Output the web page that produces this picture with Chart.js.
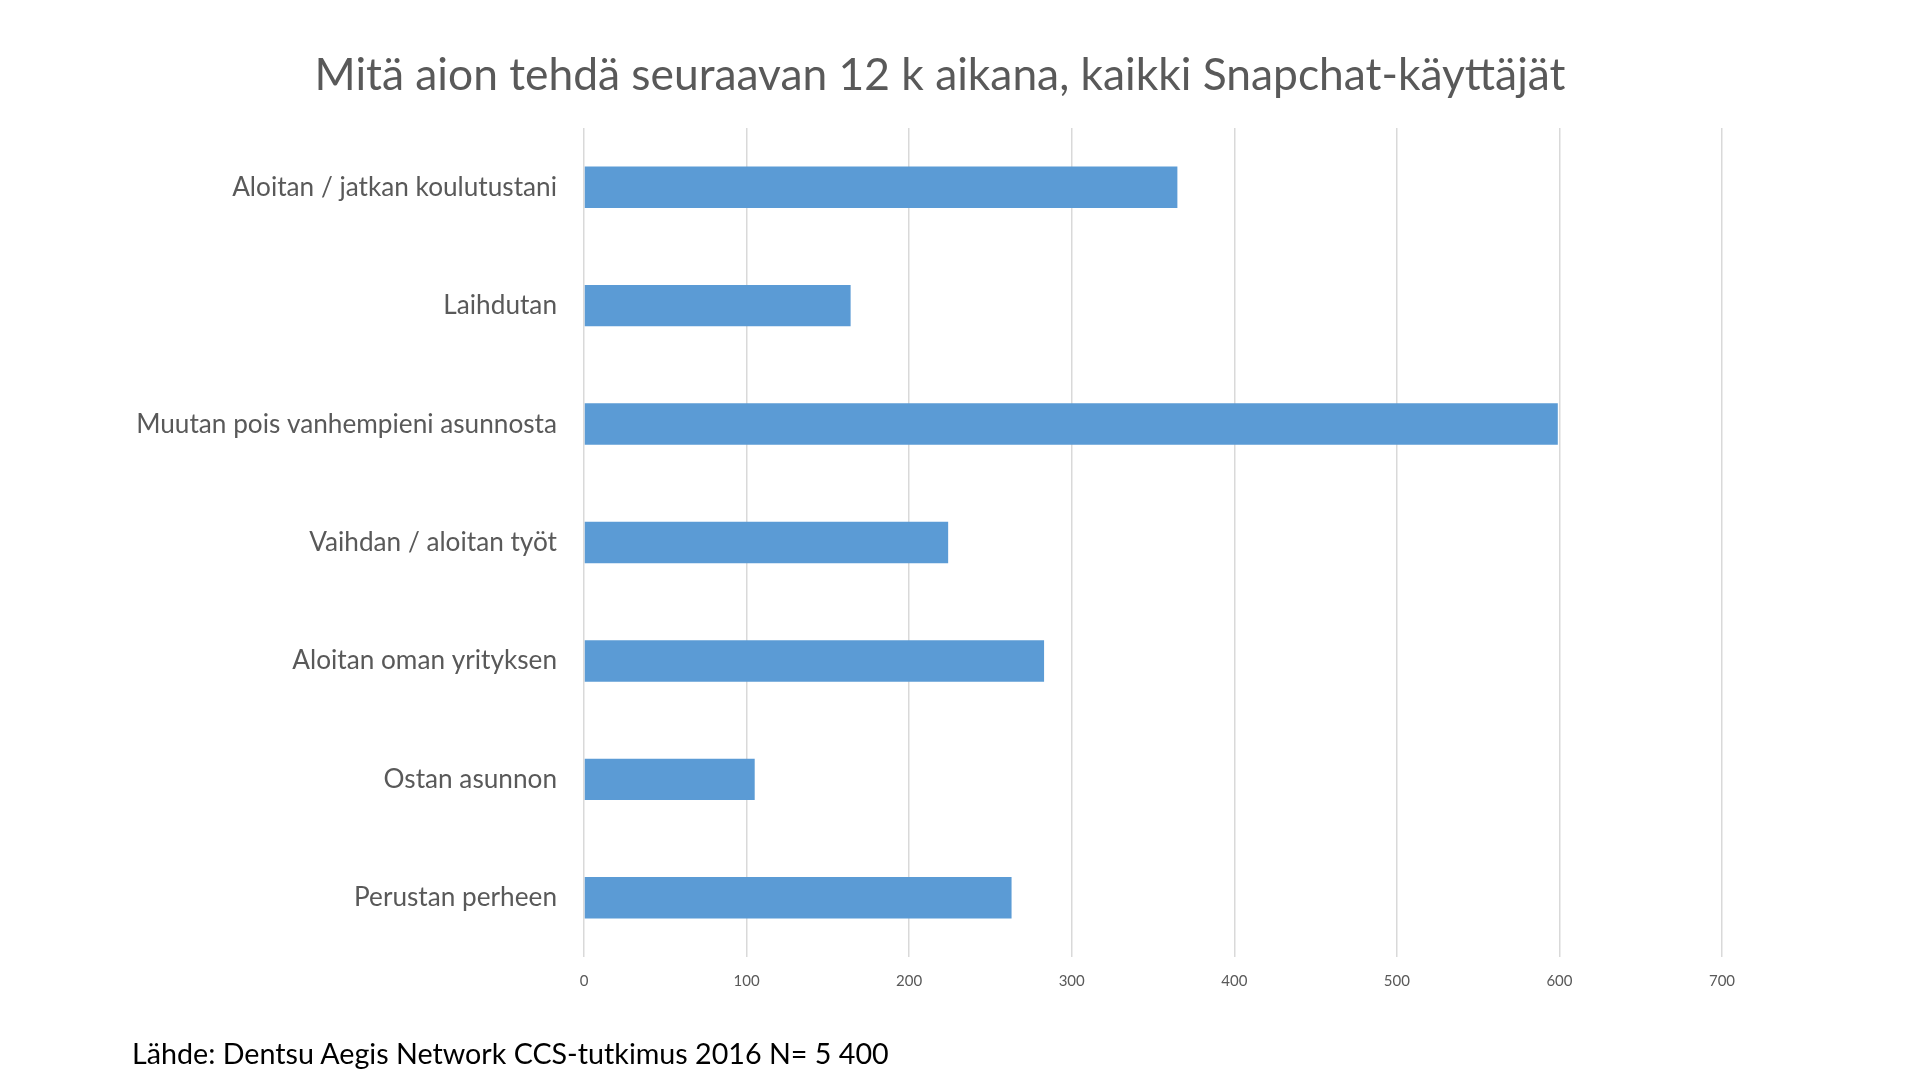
<!DOCTYPE html>
<html><head><meta charset="utf-8">
<script src="https://cdn.jsdelivr.net/npm/chart.js@4.4.1/dist/chart.umd.min.js"></script>
<style>
html,body{margin:0;padding:0;background:#fff;}
#wrap{position:relative;width:1920px;height:1080px;overflow:hidden;}
#c{position:absolute;left:0;top:0;}
#footer{position:absolute;left:132px;font-family:Lato,sans-serif;color:#000;white-space:nowrap;line-height:1.2;}
</style></head><body>
<div id="wrap"><canvas id="c" width="1920" height="1080"></canvas><div id="footer"></div></div>
<script>
const titleText = "Mitä aion tehdä seuraavan 12 k aikana, kaikki Snapchat-käyttäjät";
const footerText = "Lähde: Dentsu Aegis Network CCS-tutkimus 2016 N= 5 400";
const categories = [
  "Aloitan / jatkan koulutustani",
  "Laihdutan",
  "Muutan pois vanhempieni asunnosta",
  "Vaihdan / aloitan työt",
  "Aloitan oman yrityksen",
  "Ostan asunnon",
  "Perustan perheen"
];
const values = [365, 164, 599, 224, 283, 105, 263];
const xMin = 0, xMax = 700, xStep = 100;

const FAMILY = "Lato";
function fit(text, target) {
  const ctx = document.createElement('canvas').getContext('2d');
  ctx.font = "100px " + FAMILY;
  return 100 * target / ctx.measureText(text).width;
}

function draw() {
  const titleSize = fit(titleText, 1251);
  const labelSize = fit(categories[2], 421);
  const footerSize = fit(footerText, 758);
  const f = document.getElementById('footer');
  f.textContent = footerText;
  f.style.fontSize = footerSize + 'px';
  f.style.top = (1053 - 0.6 * footerSize) + 'px';

  const lh = 1.2;
  const padTop = 76 - titleSize * lh / 2;
  const padBottom = 128 - padTop - titleSize * lh;
  const padL = 100, padR = 140;

  new Chart(document.getElementById('c'), {
    type: 'bar',
    data: {
      labels: categories,
      datasets: [{
        data: values,
        backgroundColor: '#5B9BD5',
        borderWidth: 0,
        categoryPercentage: 1.0,
        barPercentage: 0.35
      }]
    },
    options: {
      indexAxis: 'y',
      responsive: false,
      animation: false,
      devicePixelRatio: 1,
      layout: { padding: { left: padL, right: padR, top: 0, bottom: 0 } },
      plugins: {
        legend: { display: false },
        tooltip: { enabled: false },
        title: {
          display: true,
          text: titleText,
          color: '#595959',
          font: { family: FAMILY, size: titleSize, weight: 'normal', lineHeight: lh },
          padding: { top: padTop, bottom: padBottom }
        }
      },
      scales: {
        x: {
          min: xMin, max: xMax,
          ticks: { stepSize: xStep, color: '#595959', font: { family: FAMILY, size: 15 }, padding: 15 },
          grid: { color: '#D9D9D9', lineWidth: 1.5, drawTicks: false },
          border: { display: false },
          afterFit: (s) => { s.height = 1080 - 957; }
        },
        y: {
          ticks: { color: '#595959', font: { family: FAMILY, size: labelSize }, padding: 27 },
          grid: { display: false, drawTicks: false },
          border: { display: false },
          afterFit: (s) => { s.width = 584 - padL; }
        },
        yRight: {
          type: 'linear',
          position: 'right',
          display: true,
          ticks: { display: false },
          grid: { display: false, drawTicks: false },
          border: { display: false },
          afterFit: (s) => { s.width = 1920 - padR - 1722; }
        }
      }
    }
  });
}
if (document.fonts && document.fonts.load) {
  Promise.all([document.fonts.load("20px " + FAMILY)]).then(draw, draw);
} else { draw(); }
</script>
</body></html>
